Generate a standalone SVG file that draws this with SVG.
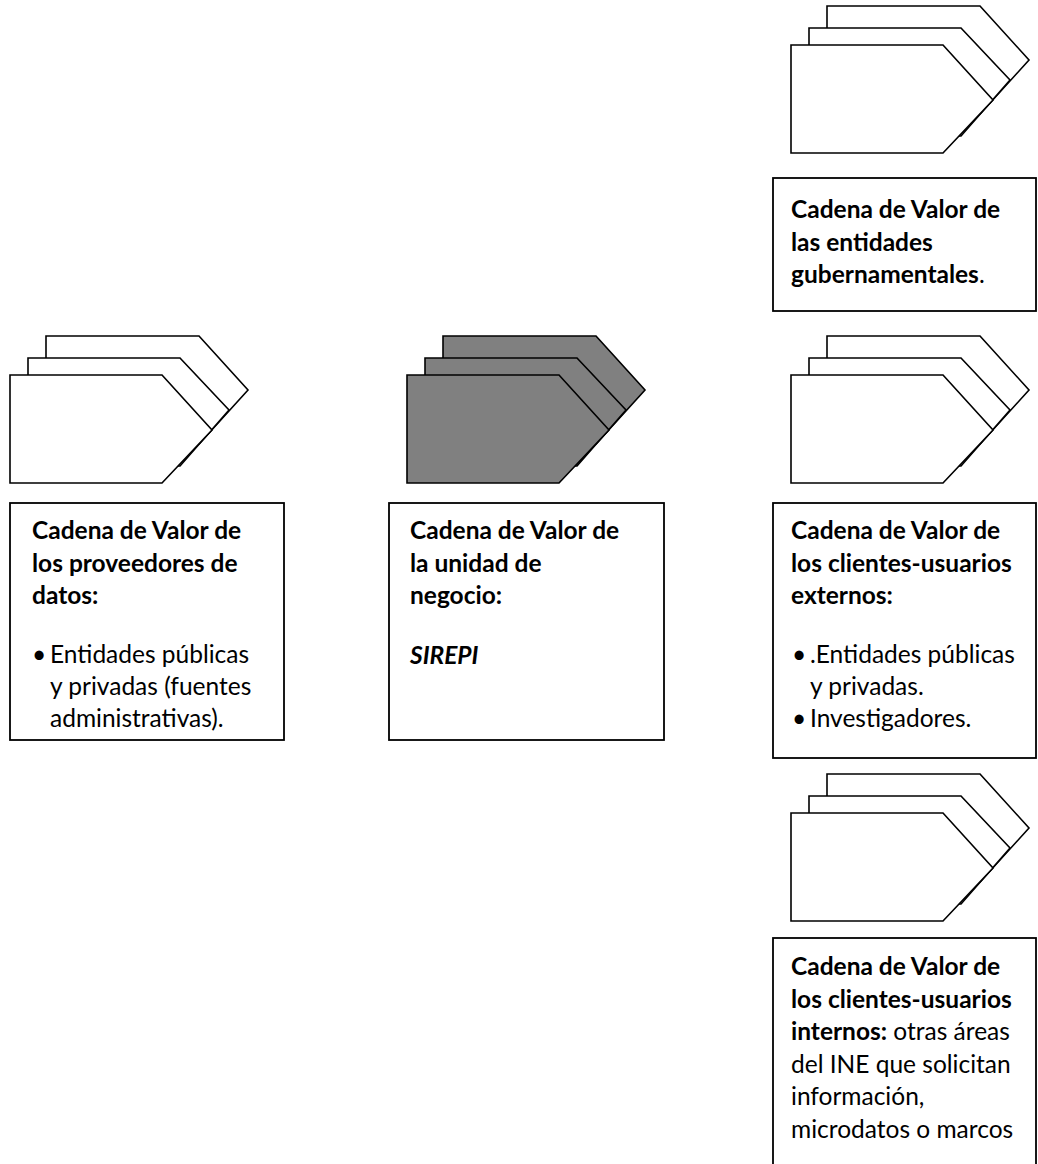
<svg xmlns="http://www.w3.org/2000/svg" width="1038" height="1164" viewBox="0 0 1038 1164">
<style>
.sheet{stroke:#000000;stroke-width:1.6;stroke-linejoin:miter}
.white{fill:#ffffff}
.gray{fill:#808080}
.box{fill:#ffffff;stroke:#000000;stroke-width:1.8}
text{font-family:Lato,"Liberation Sans",sans-serif;font-size:24.5px;fill:#000000}
.b{font-weight:bold}
.i{font-style:italic}
</style>
<defs>
<g id="stack">
<polygon class="sheet" points="46,336 199,336 248,390 199,444 46,444"/>
<polygon class="sheet" points="28,358 180,358 229,410 180,466 28,466"/>
<polygon class="sheet" points="10,375 162,375 212,430 162,483 10,483"/>
</g>
</defs>
<rect width="1038" height="1164" fill="#ffffff"/>
<g id="connectors"></g>

<g id="gov">
<use href="#stack" class="white" transform="translate(781,-330)"/>
<rect class="box" x="773" y="178" width="263" height="133"/>
<text x="791" y="218" class="b">Cadena de Valor de</text>
<text x="791" y="251" class="b">las entidades</text>
<text x="791" y="283"><tspan class="b">gubernamentales</tspan>.</text>
</g>

<g id="suppliers">
<use href="#stack" class="white"/>
<rect class="box" x="10" y="503" width="274" height="237"/>
<text x="32" y="539" class="b">Cadena de Valor de</text>
<text x="32" y="572" class="b">los proveedores de</text>
<text x="32" y="604" class="b">datos:</text>
<text x="32" y="663">•</text>
<text x="50" y="663">Entidades públicas</text>
<text x="50" y="695">y privadas (fuentes</text>
<text x="50" y="727">administrativas).</text>
</g>

<g id="business">
<use href="#stack" class="gray" transform="translate(397,0)"/>
<rect class="box" x="389" y="503" width="275" height="237"/>
<text x="410" y="539" class="b">Cadena de Valor de</text>
<text x="410" y="572" class="b">la unidad de</text>
<text x="410" y="604" class="b">negocio:</text>
<text x="410" y="664" class="b i">SIREPI</text>
</g>

<g id="external">
<use href="#stack" class="white" transform="translate(781,0)"/>
<rect class="box" x="773" y="503" width="263" height="255"/>
<text x="791" y="539" class="b">Cadena de Valor de</text>
<text x="791" y="572" class="b">los clientes-usuarios</text>
<text x="791" y="604" class="b">externos:</text>
<text x="792" y="663">•</text>
<text x="810" y="663">.Entidades públicas</text>
<text x="810" y="695">y privadas.</text>
<text x="792" y="727">•</text>
<text x="810" y="727">Investigadores.</text>
</g>

<g id="internal">
<use href="#stack" class="white" transform="translate(781,438)"/>
<rect class="box" x="773" y="938" width="263" height="260"/>
<text x="791" y="975" class="b">Cadena de Valor de</text>
<text x="791" y="1008" class="b">los clientes-usuarios</text>
<text x="791" y="1040"><tspan class="b">internos:</tspan> otras áreas</text>
<text x="791" y="1073">del INE que solicitan</text>
<text x="791" y="1105">información,</text>
<text x="791" y="1138">microdatos o marcos</text>
</g>
</svg>
